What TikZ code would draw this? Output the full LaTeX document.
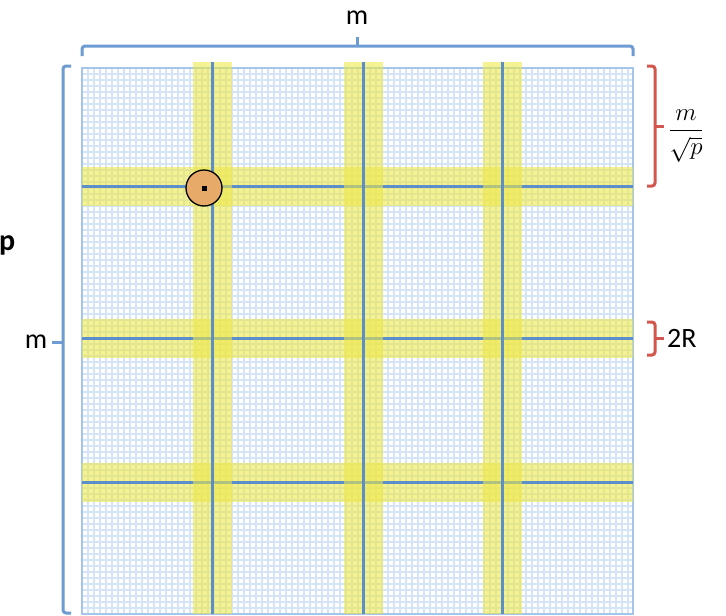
\documentclass[tikz,border=0pt]{standalone}
\usepackage{fontspec}
\setmainfont{Carlito}
\usepackage{amsmath}
\definecolor{gridblue}{RGB}{214,228,247}
\definecolor{gridedge}{RGB}{165,197,233}
\definecolor{lineblue}{RGB}{92,142,202}
\definecolor{braceblue}{RGB}{108,156,210}
\definecolor{bandyellow}{RGB}{238,232,70}
\definecolor{bracered}{RGB}{212,84,78}
\definecolor{dotorange}{RGB}{232,170,105}
\tikzset{
  gridline/.style={draw=gridblue, line width=2pt},
  gridframe/.style={draw=gridedge, line width=2pt},
  band/.style={fill=bandyellow, fill opacity=0.58, draw=none},
  mainline/.style={draw=lineblue, line width=3pt},
  bluebrace/.style={draw=braceblue, line width=3pt, rounded corners=3pt},
  redbrace/.style={draw=bracered, line width=3pt, rounded corners=3pt},
  lbl/.style={font=\fontsize{28}{32}\selectfont, inner sep=0pt, text=black},
}
\begin{document}
\begin{tikzpicture}[x=1pt,y=-1pt]
\useasboundingbox (0,0) rectangle (726,616);
% fine grid
\foreach \i in {0,...,91} \draw[gridline] ({82+\i*6},68) -- ({82+\i*6},614);
\foreach \j in {0,...,91} \draw[gridline] (82,{68+\j*6}) -- (633,{68+\j*6});
\draw[gridframe] (82,68) rectangle (633,614);
% horizontal bands and lines
\foreach \y in {186,338,482} {
  \fill[band] (82,{\y-19.5}) rectangle (633,{\y+19.5});
  \draw[mainline] (82,\y) -- (633,\y);
}
% vertical bands and lines
\foreach \x in {212,363,502} {
  \fill[band] ({\x-19.5},62) rectangle ({\x+19.5},614);
  \draw[mainline] (\x,62) -- (\x,614);
}
% circle with point
\node[circle, draw=black, line width=1.3pt, fill=dotorange, minimum size=36pt, inner sep=0pt] (disk) at (204,188) {};
\node[fill=black, minimum size=5pt, inner sep=0pt] (pt) at (disk.center) {};
% top brace
\coordinate (tl) at (82,56); \coordinate (tr) at (633,56);
\coordinate (tmid) at (357,46); \coordinate (ttip) at (357,37);
\draw[bluebrace] (tl) -- (82,46) -- (633,46) -- (tr);
\draw[bluebrace] (tmid) -- (ttip);
\node[lbl, anchor=base] (mtop) at (357,24) {m};
% left brace
\coordinate (lt) at (71,66); \coordinate (lb) at (71,613);
\coordinate (lmid) at (63,342); \coordinate (ltip) at (52,342);
\draw[bluebrace] (lt) -- (63,66) -- (63,613) -- (lb);
\draw[bluebrace] (lmid) -- (ltip);
\node[lbl, anchor=base] (mleft) at (36,348) {m};
\node[lbl, font=\fontsize{30}{34}\selectfont\bfseries, anchor=base west] (pleft) at (-1,250) {p};
% red brace: m / sqrt p
\coordinate (ra) at (647,66); \coordinate (rb) at (647,186);
\coordinate (rmid) at (655,126); \coordinate (rtip) at (664,126);
\draw[redbrace] (ra) -- (655,66) -- (655,186) -- (rb);
\draw[redbrace] (rmid) -- (rtip);
\node[inner sep=0pt, font=\fontsize{23}{27}\selectfont] (frac) at (686,136) {$\dfrac{m}{\sqrt{p}}$};
% red brace: 2R
\coordinate (sa) at (647,322); \coordinate (sb) at (647,355);
\coordinate (smid) at (655,338); \coordinate (stip) at (664,338);
\draw[redbrace] (sa) -- (655,322) -- (655,355) -- (sb);
\draw[redbrace] (smid) -- (stip);
\node[lbl, anchor=base west] (twoR) at (667,347) {2R};
\end{tikzpicture}
\end{document}
